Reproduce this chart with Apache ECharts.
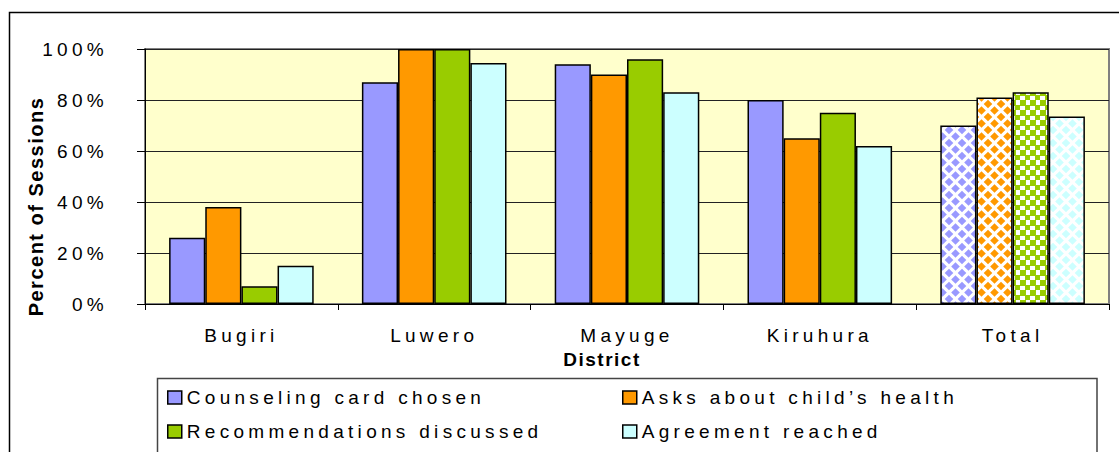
<!DOCTYPE html>
<html>
<head>
<meta charset="utf-8">
<script src="https://cdn.jsdelivr.net/npm/echarts@6/dist/echarts.min.js"></script>
<style>
  html, body { margin: 0; padding: 0; background: #fff; }
  #main { width: 1119px; height: 452px; }
  /* the original chart spreads its letters out */
  #main text { letter-spacing: 4.3px; }
  #main text[style*="bold"] { letter-spacing: 1.5px; }
</style>
</head>
<body>
<div id="main"></div>
<script>
const categories = ['Bugiri', 'Luwero', 'Mayuge', 'Kiruhura', 'Total']
const counseling = [26, 87, 94, 80, 70]
const asksHealth = [38, 100, 90, 65, 81]
const recommendations = [7, 100, 96, 75, 83]
const agreement = [15, 94.5, 83, 62, 73.5]
const yTicks = [0, 20, 40, 60, 80, 100]

const seriesNames = ['Counseling card chosen', 'Asks about child\u2019s health', 'Recommendations discussed', 'Agreement reached']
const seriesColors = ['#9999FF', '#FF9900', '#99CC00', '#CCFFFF']
const fontFamily = '"Liberation Sans", Arial, sans-serif'

// diamond fill used for the Total bars
function diamondPattern(color) {
    const c = document.createElement('canvas')
    c.width = 13
    c.height = 13
    const ctx = c.getContext('2d')
    ctx.fillStyle = '#fff'
    ctx.fillRect(0, 0, 13, 13)
    ctx.fillStyle = color
    const pts = [[6.5, 6.5], [0, 0], [13, 0], [0, 13], [13, 13]]
    pts.forEach(p => {
        ctx.beginPath()
        ctx.moveTo(p[0], p[1] - 4.3)
        ctx.lineTo(p[0] + 4.3, p[1])
        ctx.lineTo(p[0], p[1] + 4.3)
        ctx.lineTo(p[0] - 4.3, p[1])
        ctx.closePath()
        ctx.fill()
    })
    return c
}

// checker fill (green Total bar)
function checkerPattern(color) {
    const c = document.createElement('canvas')
    c.width = 10
    c.height = 10
    const ctx = c.getContext('2d')
    ctx.fillStyle = '#fff'
    ctx.fillRect(0, 0, 10, 10)
    ctx.fillStyle = color
    ctx.fillRect(0, 0, 6, 6)
    ctx.fillRect(5, 5, 5, 5)
    return c
}

function buildData(values, idx) {
    return values.map((v, i) => {
        if (categories[i] !== 'Total') return v
        const img = idx === 2 ? checkerPattern(seriesColors[idx]) : diamondPattern(seriesColors[idx])
        return { value: v, itemStyle: { color: { image: img, repeat: 'repeat' } } }
    })
}

const allValues = [counseling, asksHealth, recommendations, agreement]

const chart = echarts.init(document.getElementById('main'), null, { renderer: 'svg' })

const legendBase = {
    orient: 'vertical',
    top: 388,
    padding: 0,
    itemGap: 15,
    itemWidth: 14,
    itemHeight: 13,
    icon: 'rect',
    itemStyle: { borderColor: '#000', borderWidth: 1.5 },
    textStyle: { fontSize: 19, color: '#000', fontFamily: fontFamily }
}

const option = {
    animation: false,
    backgroundColor: '#fff',
    textStyle: { fontFamily: fontFamily },
    grid: {
        left: 145,
        top: 49,
        right: 10,
        bottom: 148,
        show: true,
        backgroundColor: '#FFFFCC',
        borderColor: '#808080',
        borderWidth: 2
    },
    legend: [
        Object.assign({}, legendBase, { left: 167, data: [seriesNames[0], seriesNames[2]] }),
        Object.assign({}, legendBase, { left: 622, data: [seriesNames[1], seriesNames[3]] })
    ],
    xAxis: {
        type: 'category',
        data: categories,
        name: 'District',
        nameLocation: 'middle',
        nameGap: 44,
        nameTextStyle: { fontSize: 19, fontWeight: 'bold', color: '#000', padding: [0, 50, 0, 0] },
        axisLine: { lineStyle: { color: '#000', width: 1 } },
        axisTick: { show: true, length: 6, lineStyle: { color: '#000' } },
        axisLabel: { fontSize: 19, color: '#000', margin: 22 }
    },
    yAxis: {
        type: 'value',
        min: yTicks[0],
        max: yTicks[yTicks.length - 1],
        interval: yTicks[1] - yTicks[0],
        name: 'Percent of Sessions',
        nameLocation: 'middle',
        nameGap: 99,
        nameTextStyle: { fontSize: 20, fontWeight: 'bold', color: '#000', padding: [0, 60, 0, 0] },
        axisLine: { show: true, lineStyle: { color: '#000', width: 1 } },
        axisTick: { show: true, length: 8, lineStyle: { color: '#000' } },
        axisLabel: { fontSize: 19, color: '#000', margin: 37, formatter: '{value}%' },
        splitLine: { lineStyle: { color: '#222', width: 1 } }
    },
    series: allValues.map((vals, i) => ({
        name: seriesNames[i],
        type: 'bar',
        barGap: '0%',
        barCategoryGap: '25%',
        itemStyle: { color: seriesColors[i], borderColor: '#000', borderWidth: 1.5 },
        data: buildData(vals, i)
    })),
    graphic: [
        {
            type: 'rect',
            z: -10,
            shape: { x: 9.5, y: 12.5, width: 1200, height: 500 },
            style: { fill: 'none', stroke: '#000', lineWidth: 1.5 }
        },
        {
            type: 'rect',
            z: -10,
            shape: { x: 157.5, y: 378.5, width: 939.5, height: 200 },
            style: { fill: '#fff', stroke: '#444', lineWidth: 1.5 }
        }
    ]
}

chart.setOption(option)
</script>
</body>
</html>
